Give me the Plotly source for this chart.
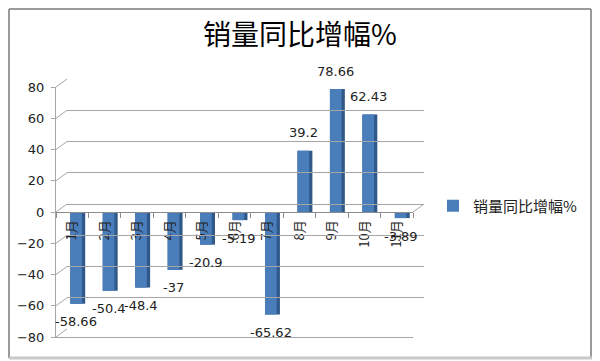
import plotly.graph_objects as go

# ---- data ----
categories = ["1月", "2月", "3月", "4月", "5月", "6月", "7月", "8月", "9月", "10月", "11月"]
values = [-58.66, -50.4, -48.4, -37, -20.9, -5.19, -65.62, 39.2, 78.66, 62.43, -3.89]
labels = ["-58.66", "-50.4", "-48.4", "-37", "-20.9", "-5.19", "-65.62", "39.2", "78.66", "62.43", "-3.89"]
y_ticks = [-80, -60, -40, -20, 0, 20, 40, 60, 80]
series_name = "销量同比增幅%"
title_text = "销量同比增幅%"

W, H = 600, 361
OFF = 8  # page body margin in the browser
def px(x): return (x - OFF) / W
def py(y): return 1 - (y - OFF) / H

FONT = "DejaVu Sans, Noto Sans CJK SC, sans-serif"
CJK = "Noto Sans CJK SC, DejaVu Sans, sans-serif"

# front plot area (screen pixels)
FX0, FX1, FY_TOP, FY_BOT = 56, 413, 87, 337
DX, DY = 11, 8  # depth offset for back wall

fig = go.Figure()

# back wall gridlines carrier
fig.add_trace(go.Scatter(x=categories, y=[None] * len(categories), xaxis="x2", yaxis="y2",
                         showlegend=False, hoverinfo="skip", mode="markers"))
# side face (darker) behind
fig.add_trace(go.Bar(x=categories, y=values, width=0.46, offset=-0.06,
                     marker=dict(color="#30598a", line=dict(width=0)),
                     showlegend=False, hoverinfo="skip", xaxis="x", yaxis="y"))
# front face
fig.add_trace(go.Bar(x=categories, y=values, width=0.36, offset=-0.06, name=series_name,
                     marker=dict(color="#4a7ebb", line=dict(width=0)),
                     xaxis="x", yaxis="y"))
fig.add_trace(go.Scatter(x=categories, y=[None] * len(categories), xaxis="x3", yaxis="y",
                         showlegend=False, hoverinfo="skip", mode="markers"))

annotations = []
for c, v, t in zip(categories, values, labels):
    annotations.append(dict(x=c, y=v, xref="x", yref="y", text=t, showarrow=False,
                            xshift=4, yshift=18 if v >= 0 else -18,
                            font=dict(family=FONT, size=13, color="#222222")))

BL, BR, BT, BB = 9, 591, 9, 358  # outer frame (screen px, limited by visible area)
shapes = [
    dict(type="line", xref="paper", yref="paper", x0=px(BR), x1=px(BR), y0=py(BB), y1=py(BT),
         line=dict(color="#9a9a9a", width=2)),
    dict(type="line", xref="paper", yref="paper", x0=px(BL), x1=px(BL), y0=py(BB), y1=py(BT),
         line=dict(color="#9a9a9a", width=2)),
    dict(type="line", xref="paper", yref="paper", x0=px(BL), x1=px(BR), y0=py(BT), y1=py(BT),
         line=dict(color="#9a9a9a", width=2)),
    dict(type="line", xref="paper", yref="paper", x0=px(BL), x1=px(BR + 1), y0=py(BB), y1=py(BB),
         line=dict(color="#c8c8c8", width=3)),
]
# diagonal connectors from front axis ticks to the back wall
for v in y_ticks:
    yf = FY_BOT - (v + 80) / 160 * (FY_BOT - FY_TOP)
    shapes.append(dict(type="line", xref="paper", yref="paper",
                       x0=px(FX0), y0=py(yf), x1=px(FX0 + DX), y1=py(yf - DY),
                       line=dict(color="#a6a6a6", width=1)))
# connector at right end of zero line
yz = FY_BOT - 80 / 160 * (FY_BOT - FY_TOP)
shapes.append(dict(type="line", xref="paper", yref="paper",
                   x0=px(FX1), y0=py(yz), x1=px(FX1 + DX), y1=py(yz - DY),
                   line=dict(color="#a6a6a6", width=1)))

fig.update_layout(
    template="none",
    width=W, height=H,
    margin=dict(l=0, r=0, t=0, b=0, autoexpand=False),
    paper_bgcolor="white", plot_bgcolor="rgba(0,0,0,0)",
    barmode="overlay",
    title=dict(text=title_text, x=px(300), xanchor="center", y=py(35), yanchor="middle",
               font=dict(family=CJK, size=28, color="#000000"), automargin=False),
    xaxis=dict(domain=[px(FX0), px(FX1)], range=[-0.5, 10.5], type="category",
               showline=True, linecolor="#a6a6a6", linewidth=1, showticklabels=False,
               ticks="", showgrid=False, anchor="y", fixedrange=True, automargin=False),
    xaxis3=dict(overlaying="x", anchor="free", position=py(yz), range=[-0.5, 10.5],
                type="category", showline=True, linecolor="#8c8c8c", linewidth=1,
                ticks="outside", ticklen=5, tickcolor="#8c8c8c", tickson="boundaries",
                tickangle=-90, ticklabelstandoff=2, automargin=False,
                tickfont=dict(family=CJK, size=13, color="#222222"), showgrid=False,
                tickmode="array", tickvals=categories, ticktext=categories),
    yaxis=dict(domain=[py(FY_BOT), py(FY_TOP)], range=[-80, 80], tickvals=y_ticks,
               showline=True, linecolor="#a6a6a6", linewidth=1, ticks="outside", ticklen=4,
               tickcolor="#a6a6a6", showgrid=False, zeroline=False, automargin=False,
               ticklabelstandoff=4,
               tickfont=dict(family=FONT, size=13, color="#222222"), anchor="x", fixedrange=True),
    xaxis2=dict(domain=[px(FX0 + DX), px(FX1 + DX)], range=[-0.5, 10.5], type="category",
                showline=False, showticklabels=False, ticks="", showgrid=False, anchor="y2",
                automargin=False),
    yaxis2=dict(domain=[py(FY_BOT - DY), py(FY_TOP - DY)], range=[-80, 80], tickvals=y_ticks,
                showgrid=True, gridcolor="#a6a6a6", gridwidth=1, zeroline=False,
                showticklabels=False, ticks="", showline=False, anchor="x2", automargin=False),
    legend=dict(x=px(433), xanchor="left", y=py(206), yanchor="middle",
                font=dict(family=CJK, size=15, color="#222222"), bgcolor="rgba(0,0,0,0)",
                itemwidth=30),
    annotations=annotations,
    shapes=shapes,
)

fig.write_html("out.html")
